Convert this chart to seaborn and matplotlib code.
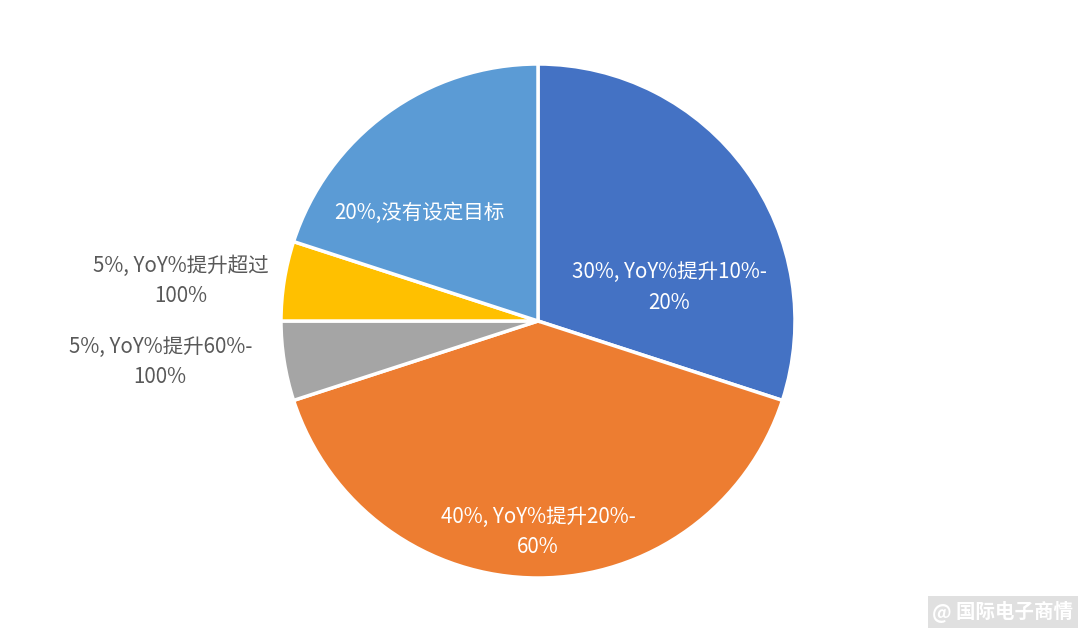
import matplotlib
matplotlib.use("Agg")
import matplotlib.pyplot as plt
import seaborn as sns

# slice values, clockwise from 12 o'clock
shares = [30, 40, 5, 5, 20]
labels = [
    "30%, YoY%提升10%-\n20%",
    "40%, YoY%提升20%-\n60%",
    "5%, YoY%提升60%-\n100%",
    "5%, YoY%提升超过\n100%",
    "20%,没有设定目标",
]
colors = ["#4472C4", "#ED7D31", "#A5A5A5", "#FFC000", "#5B9BD5"]

# label placement (data units, pie radius = 1) and text colour
label_pos = [(0.51, 0.13), (0.0, -0.82), (-1.47, -0.16), (-1.39, 0.155), (-0.46, 0.42)]
label_col = ["white", "white", "#595959", "#595959", "white"]

sns.set_style("white")
plt.rcParams["font.family"] = ["Noto Sans CJK SC", "DejaVu Sans"]

fig = plt.figure(figsize=(10.8, 6.37), dpi=100)
cx, cy, r = 538, 321, 257
ax = fig.add_axes([(cx - r) / 1080, (637 - cy - r) / 637, 2 * r / 1080, 2 * r / 637])

ax.pie(shares, colors=colors, startangle=90, counterclock=False,
       wedgeprops=dict(edgecolor="white", linewidth=2.5))
ax.set_xlim(-1, 1)
ax.set_ylim(-1, 1)
ax.set_aspect("auto")
ax.axis("off")

for txt, (x, y), c in zip(labels, label_pos, label_col):
    ax.text(x, y, txt, ha="center", va="center", color=c, fontsize=14.8,
            linespacing=1.5, clip_on=False)

# watermark
fig.text(1003 / 1080, 1 - 612 / 637, "@ 国际电子商情", ha="center", va="center",
         color="white", fontsize=14, fontweight="bold",
         bbox=dict(boxstyle="square,pad=0.25", facecolor="#E0E0E0", edgecolor="none"))

fig.savefig("out.png", dpi=100)
